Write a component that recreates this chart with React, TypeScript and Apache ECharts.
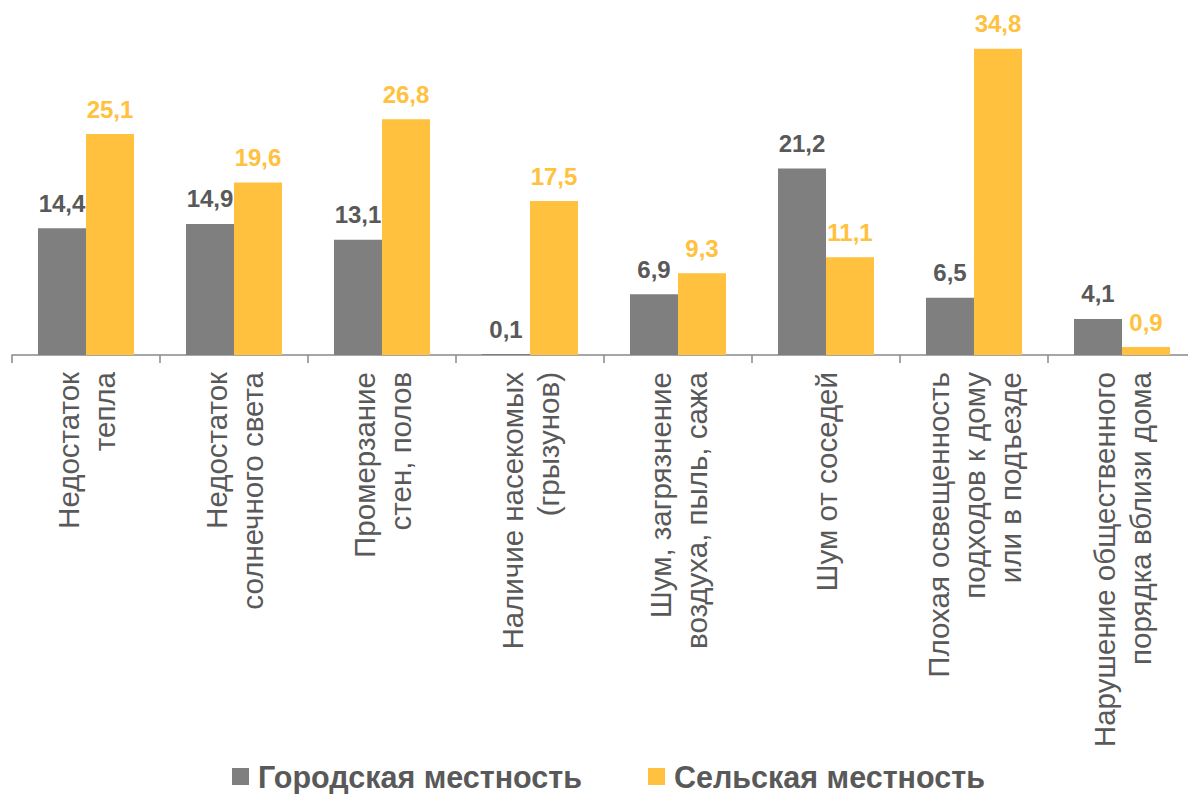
import React, { useEffect, useRef } from "react";
import * as echarts from "echarts";

const categories = [
  "Недостаток\nтепла",
  "Недостаток\nсолнечного света",
  "Промерзание\nстен, полов",
  "Наличие насекомых\n(грызунов)",
  "Шум, загрязнение\nвоздуха, пыль, сажа",
  "Шум от соседей",
  "Плохая освещенность\nподходов к дому\nили в подъезде",
  "Нарушение общественного\nпорядка вблизи дома",
];
const urban = [14.4, 14.9, 13.1, 0.1, 6.9, 21.2, 6.5, 4.1];
const rural = [25.1, 19.6, 26.8, 17.5, 9.3, 11.1, 34.8, 0.9];
const seriesNames = ["Городская местность", "Сельская местность"];

const GREY = "#7F7F7F";
const YELLOW = "#FFC13E";
const TEXT = "#595959";
const FONT = "'Liberation Sans', Arial, sans-serif";

const fmt = (v: number) => v.toFixed(1).replace(".", ",");

export default function App() {
  const ref = useRef<HTMLDivElement>(null);
  useEffect(() => {
    document.body.style.margin = "0";
    document.body.style.overflow = "hidden";
    const chart = echarts.init(ref.current!, null, { renderer: "svg" });
    chart.setOption({
      animation: false,
      textStyle: { fontFamily: FONT },
      legend: {
        left: 232,
        top: 761,
        padding: 0,
        itemWidth: 17,
        itemHeight: 17,
        itemGap: 66,
        icon: "rect",
        textStyle: {
          fontSize: 30.5,
          lineHeight: 30,
          fontWeight: "bold",
          color: TEXT,
          fontFamily: FONT,
          padding: [0, 0, 0, 4],
        },
        data: seriesNames,
      },
      grid: { left: 12, right: 4, top: 47, bottom: 439, containLabel: false },
      xAxis: {
        type: "category",
        data: categories,
        axisLine: { lineStyle: { color: "#898989", width: 1.5 } },
        axisTick: { show: true, length: 8, lineStyle: { color: "#898989", width: 1.5 } },
        axisLabel: {
          rotate: 90,
          interval: 0,
          margin: 17,
          fontSize: 29.5,
          lineHeight: 36,
          color: TEXT,
          fontFamily: FONT,
        },
      },
      yAxis: {
        type: "value",
        min: 0,
        max: 35,
        show: false,
        splitLine: { show: false },
      },
      series: [
        {
          name: seriesNames[0],
          type: "bar",
          data: urban,
          barWidth: 48,
          barGap: "0%",
          itemStyle: { color: GREY },
          label: {
            show: true,
            position: "top",
            distance: 13,
            fontSize: 24,
            fontWeight: "bold",
            color: TEXT,
            fontFamily: FONT,
            formatter: (p: any) => fmt(p.value),
          },
        },
        {
          name: seriesNames[1],
          type: "bar",
          data: rural,
          barWidth: 48,
          barGap: "0%",
          itemStyle: { color: YELLOW },
          label: {
            show: true,
            position: "top",
            distance: 13,
            fontSize: 24,
            fontWeight: "bold",
            color: YELLOW,
            fontFamily: FONT,
            formatter: (p: any) => fmt(p.value),
          },
        },
      ],
    });
    return () => chart.dispose();
  }, []);
  return <div ref={ref} style={{ width: 1200, height: 794 }} />;
}
